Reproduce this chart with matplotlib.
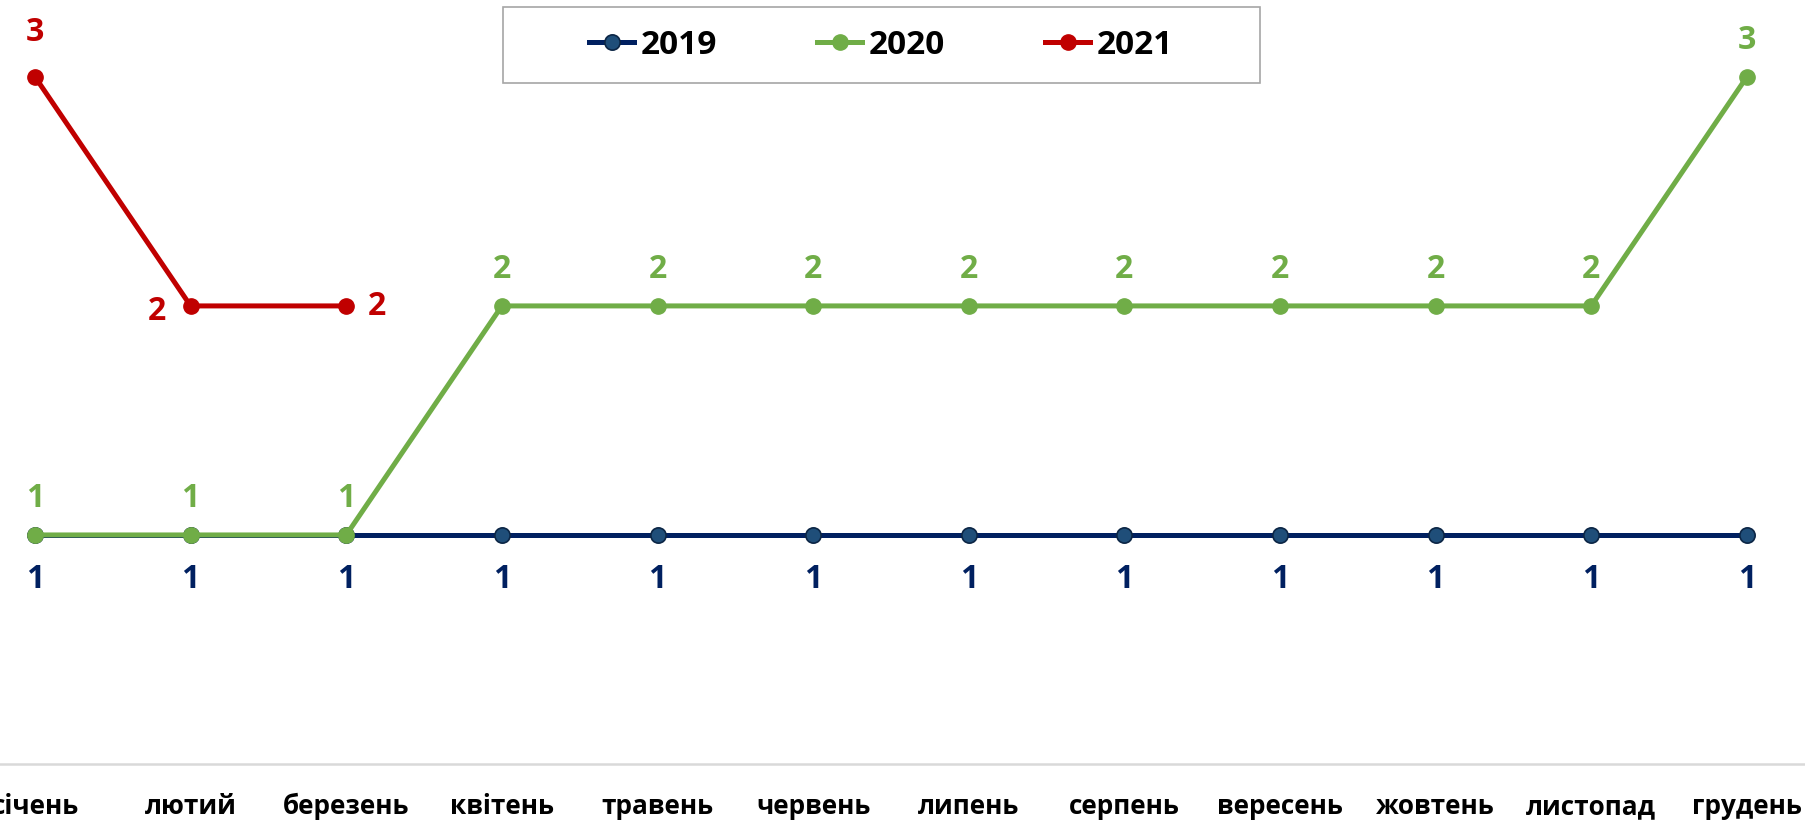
import matplotlib.pyplot as plt
from matplotlib.patches import Rectangle

months = ["січень", "лютий", "березень", "квітень", "травень", "червень",
          "липень", "серпень", "вересень", "жовтень", "листопад", "грудень"]
y2019 = [1, 1, 1, 1, 1, 1, 1, 1, 1, 1, 1, 1]
y2020 = [1, 1, 1, 2, 2, 2, 2, 2, 2, 2, 2, 3]
y2021 = [3, 2, 2]

plt.rcParams['font.family'] = ['Open Sans', 'DejaVu Sans']

fig = plt.figure(figsize=(18.06, 8.29), dpi=100)
ax = fig.add_axes([0, 64 / 829, 1, 765 / 829])

x = list(range(len(months)))

ax.plot(x, y2019, color='#002060', lw=3.6, marker='o', ms=11,
        mfc='#1F4E79', mec='#0b2545', mew=1.2, label='2019', zorder=3)
ax.plot(x, y2020, color='#70AD47', lw=3.6, marker='o', ms=11,
        mfc='#70AD47', mec='#70AD47', label='2020', zorder=4)
ax.plot(x[:len(y2021)], y2021, color='#C00000', lw=3.6, marker='o', ms=11,
        mfc='#C00000', mec='#C00000', label='2021', zorder=5)

lbl = dict(fontsize=23, fontweight='bold', ha='center', va='center')
for i, v in enumerate(y2019):
    ax.annotate(str(v), (i, v), xytext=(0, -31), textcoords='offset points',
                color='#002060', **lbl)
for i, v in enumerate(y2020):
    ax.annotate(str(v), (i, v), xytext=(0, 27), textcoords='offset points',
                color='#70AD47', **lbl)
# 2021: above, left, right
offs = [(0, 33), (-24, -3), (22, 0)]
for i, v in enumerate(y2021):
    ax.annotate(str(v), (i, v), xytext=offs[i], textcoords='offset points',
                color='#C00000', **lbl)

ax.set_xlim(-0.225, 11.38)
ax.set_ylim(0, 3.34)
ax.set_xticks(x)
ax.set_xticklabels(months, fontsize=18.8, fontweight='bold')
ax.tick_params(axis='x', length=0, pad=20)
ax.set_yticks([])
for s in ['left', 'right', 'top']:
    ax.spines[s].set_visible(False)
ax.spines['bottom'].set_color('#d9d9d9')
ax.spines['bottom'].set_linewidth(1.8)

# legend frame drawn separately so it can be wider than the entries
fig.patches.append(Rectangle((503 / 1806, 1 - 84 / 829), 757 / 1806, 76 / 829,
                             transform=fig.transFigure, fill=False,
                             edgecolor='#a6a6a6', lw=1.2))
leg = fig.legend(loc='center', bbox_to_anchor=(881 / 1806, 1 - 46 / 829), ncol=3,
                 frameon=False, prop={'size': 24, 'weight': 'bold'},
                 handlelength=1.35, columnspacing=3.0, handletextpad=0.2)
for h in leg.legend_handles:
    h.set_markersize(11)

fig.savefig('out.png', dpi=100)
